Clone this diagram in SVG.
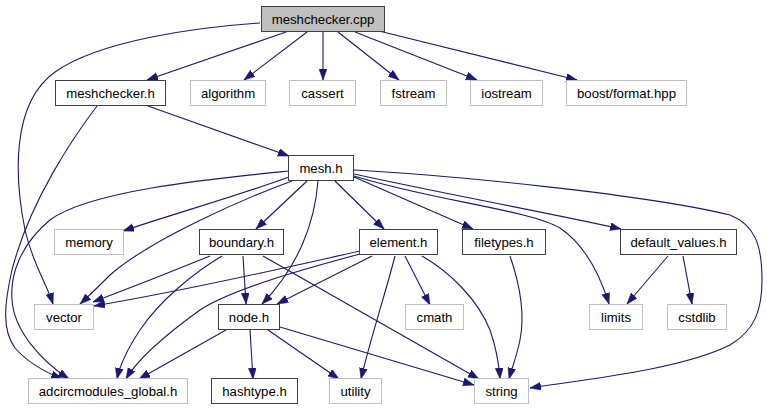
<svg xmlns="http://www.w3.org/2000/svg" width="767" height="411" viewBox="0 0 767 411">
<style>
.n rect{fill:#fff;stroke:#404040;stroke-width:1}
.g rect{fill:#fff;stroke:#bfbfbf;stroke-width:1}
.root rect{fill:#bfbfbf;stroke:#404040;stroke-width:1}
text{font-family:"Liberation Sans",Arial,sans-serif;font-size:13.2px;fill:#000;text-anchor:middle}
.e path{fill:none;stroke:#191970;stroke-width:1.1;marker-end:url(#a)}
</style>
<defs>
<marker id="a" markerUnits="userSpaceOnUse" markerWidth="12" markerHeight="10" refX="11" refY="4" orient="auto">
<path d="M0,0 L11,4 L0,8 z" fill="#191970" stroke="#191970" stroke-width="0.5"/>
</marker>
</defs>
<rect width="767" height="411" fill="#fff"/>
<g id="edges" class="e">
<path d="M286,32 L147,80"/>
<path d="M307,32 L244,80"/>
<path d="M323,32 L323,80"/>
<path d="M338,32 L399,80"/>
<path d="M355,32 L477,80"/>
<path d="M379,31 L577,80"/>
<path d="M260,23 C200,27 100,40 55,72 C10,104 15,180 25,230 C33,265 46,282 53,304"/>
<path d="M97,106 C75,135 30,200 12,270 C4,305 2,330 15,348 C28,363 45,372 62,379"/>
<path d="M148,106 L289,156"/>
<path d="M289,171 C220,178 90,190 50,220 C20,245 10,275 12,300 C14,330 40,360 69,379"/>
<path d="M289,177 C240,195 170,215 123,231"/>
<path d="M292,181 C240,200 150,240 110,275 C100,285 90,295 80,304"/>
<path d="M307,181 L256,229"/>
<path d="M335,181 L384,229"/>
<path d="M354,177 L473,229"/>
<path d="M354,174 C450,195 560,215 621,229"/>
<path d="M354,176 C430,200 530,210 560,228 C585,245 600,275 609,304"/>
<path d="M354,170 C450,175 650,195 730,215 C755,225 762,245 762,280 C762,310 755,330 730,345 C680,370 580,380 530,388"/>
<path d="M318,181 C315,220 300,265 262,304"/>
<path d="M210,256 L150,280 L93,302"/>
<path d="M222,256 C195,272 160,300 140,330 C128,348 120,365 117,379"/>
<path d="M243,256 L246,304"/>
<path d="M263,256 L479,379"/>
<path d="M360,251 C310,262 200,288 94,306"/>
<path d="M360,254 C300,270 230,290 200,310 C175,328 140,355 126,379"/>
<path d="M372,256 L277,304"/>
<path d="M395,256 C385,295 370,340 361,379"/>
<path d="M405,256 L430,305"/>
<path d="M422,256 C450,272 478,300 490,330 C497,350 499,365 500,379"/>
<path d="M510,256 C520,285 525,315 520,340 C517,355 512,368 509,379"/>
<path d="M668,256 L627,304"/>
<path d="M683,256 L692,304"/>
<path d="M226,330 L139,379"/>
<path d="M250,330 L253,379"/>
<path d="M268,330 L339,379"/>
<path d="M280,327 L474,385"/>
</g>
<g id="meshchecker_cpp" class="root"><rect x="261.5" y="6.5" width="123" height="25"/><text x="323" y="23.5">meshchecker.cpp</text></g>
<g id="meshchecker_h" class="n"><rect x="55.5" y="80.5" width="110" height="25"/><text x="110.5" y="97.5">meshchecker.h</text></g>
<g id="algorithm" class="g"><rect x="190.5" y="80.5" width="75" height="25"/><text x="228" y="97.5">algorithm</text></g>
<g id="cassert" class="g"><rect x="289.5" y="80.5" width="66" height="25"/><text x="322.5" y="97.5">cassert</text></g>
<g id="fstream" class="g"><rect x="380.5" y="80.5" width="66" height="25"/><text x="413.5" y="97.5">fstream</text></g>
<g id="iostream" class="g"><rect x="470.5" y="80.5" width="72" height="25"/><text x="506.5" y="97.5">iostream</text></g>
<g id="boost_format" class="g"><rect x="566.5" y="80.5" width="120" height="25"/><text x="626.5" y="97.5">boost/format.hpp</text></g>
<g id="mesh_h" class="n"><rect x="288.5" y="155.5" width="65" height="25"/><text x="321" y="172.5">mesh.h</text></g>
<g id="memory" class="g"><rect x="54.5" y="229.5" width="69" height="25"/><text x="89" y="246.5">memory</text></g>
<g id="boundary_h" class="n"><rect x="199.5" y="229.5" width="84" height="25"/><text x="241.5" y="246.5">boundary.h</text></g>
<g id="element_h" class="n"><rect x="359.5" y="229.5" width="78" height="25"/><text x="398.5" y="246.5">element.h</text></g>
<g id="filetypes_h" class="n"><rect x="462.5" y="229.5" width="83" height="25"/><text x="504" y="246.5">filetypes.h</text></g>
<g id="default_values_h" class="n"><rect x="620.5" y="229.5" width="116" height="25"/><text x="678.5" y="246.5">default_values.h</text></g>
<g id="vector" class="g"><rect x="34.5" y="304.5" width="59" height="25"/><text x="64" y="321.5">vector</text></g>
<g id="node_h" class="n"><rect x="218.5" y="304.5" width="61" height="25"/><text x="249" y="321.5">node.h</text></g>
<g id="cmath" class="g"><rect x="405.5" y="304.5" width="58" height="25"/><text x="434.5" y="321.5">cmath</text></g>
<g id="limits" class="g"><rect x="589.5" y="304.5" width="53" height="25"/><text x="616" y="321.5">limits</text></g>
<g id="cstdlib" class="g"><rect x="667.5" y="304.5" width="59" height="25"/><text x="697" y="321.5">cstdlib</text></g>
<g id="adcircmodules_global_h" class="g"><rect x="28.5" y="378.5" width="159" height="25"/><text x="108" y="395.5">adcircmodules_global.h</text></g>
<g id="hashtype_h" class="n"><rect x="211.5" y="378.5" width="86" height="25"/><text x="254.5" y="395.5">hashtype.h</text></g>
<g id="utility" class="g"><rect x="329.5" y="378.5" width="52" height="25"/><text x="355.5" y="395.5">utility</text></g>
<g id="string" class="g"><rect x="474.5" y="378.5" width="54" height="25"/><text x="501.5" y="395.5">string</text></g>
</svg>
